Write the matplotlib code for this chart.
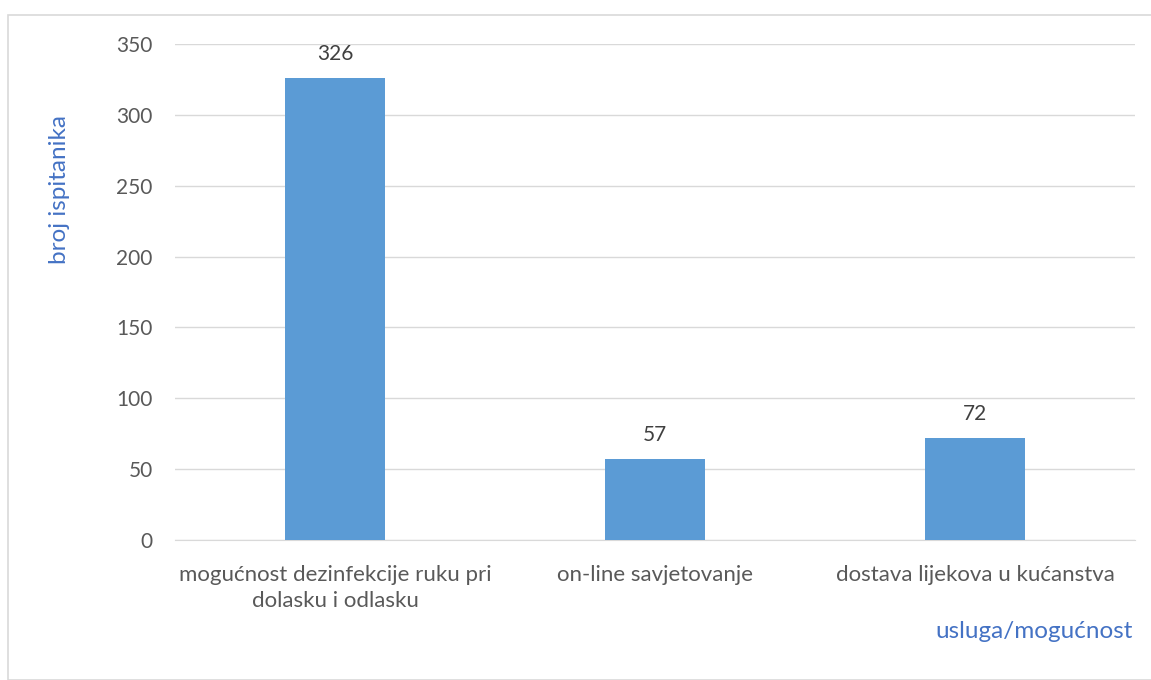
import numpy as np
import matplotlib.pyplot as plt
from matplotlib.patches import Rectangle

plt.rcParams['font.family'] = ['Lato', 'DejaVu Sans']

categories = ['mogućnost dezinfekcije ruku pri\ndolasku i odlasku',
              'on-line savjetovanje',
              'dostava lijekova u kućanstva']
values = [326, 57, 72]
yticks = [0, 50, 100, 150, 200, 250, 300, 350]

W, H = 1151, 680
fig = plt.figure(figsize=(W / 100, H / 100), dpi=100)

# outer chart border
fig.patches.append(Rectangle((8 / W, 0), 1.2, (H - 15) / H, transform=fig.transFigure,
                             fill=False, edgecolor='#d9d9d9', linewidth=1.2))

ax = fig.add_axes([175 / W, (H - 540) / H, 960 / W, 496 / H])
x = np.arange(len(categories))
bars = ax.bar(x, values, width=0.31, color='#5b9bd5', zorder=3)

for xi, v in zip(x, values):
    ax.text(xi, v + 10, str(v), ha='center', va='bottom', fontsize=15, color='#404040')

ax.set_xlim(-0.5, len(categories) - 0.5)
ax.set_ylim(0, 350)
ax.set_yticks(yticks)
ax.set_yticklabels([str(t) for t in yticks])
ax.set_xticks(x)
ax.set_xticklabels(categories, fontsize=16, color='#595959', linespacing=1.4)
ax.tick_params(axis='y', length=0, pad=16, labelsize=15, labelcolor='#595959')
ax.tick_params(axis='x', length=0, pad=18)
ax.grid(axis='y', color='#d9d9d9', linewidth=1, zorder=0)
for s in ['top', 'right', 'left']:
    ax.spines[s].set_visible(False)
ax.spines['bottom'].set_color('#d9d9d9')

fig.text(60 / W, (H - 190) / H, 'broj ispitanika', rotation=90, ha='center', va='center',
         fontsize=17.5, color='#4472c4')
fig.text(1034 / W, (H - 632) / H, 'usluga/mogućnost', ha='center', va='center',
         fontsize=17.5, color='#4472c4')

fig.savefig('out.png', dpi=100)
